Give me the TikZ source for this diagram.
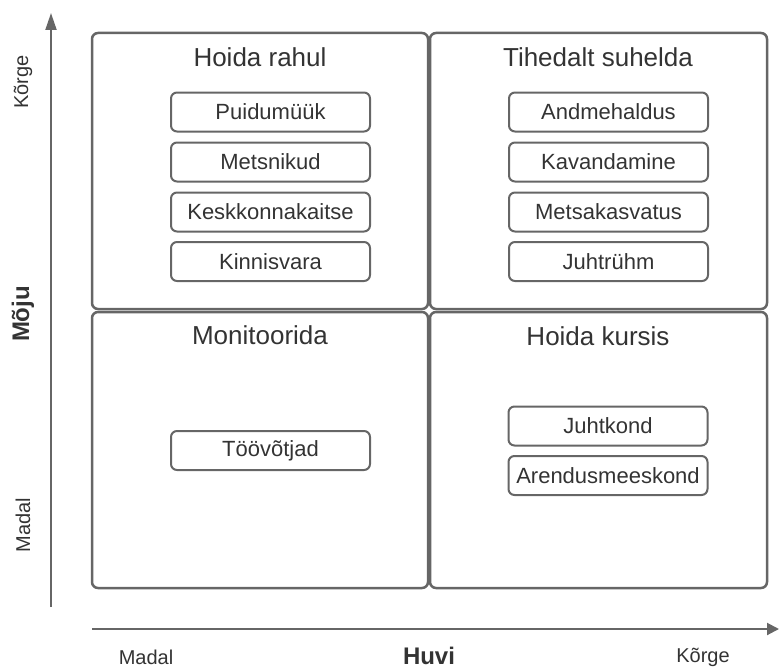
\documentclass[tikz,border=0pt]{standalone}
\usepackage{fontspec}
\setmainfont{Liberation Sans}
\usetikzlibrary{arrows.meta}
\definecolor{edgegray}{HTML}{666666}
\definecolor{ink}{HTML}{333333}
\tikzset{
  quad/.style={draw=edgegray, line width=2.5pt, rounded corners=6pt, minimum width=336pt, minimum height=276pt, inner sep=0pt, outer sep=0pt},
  qtitle/.style={text=ink, font=\fontsize{26}{29}\selectfont, inner sep=0pt},
  item/.style={draw=edgegray, line width=2pt, rounded corners=6pt, minimum width=199pt, minimum height=39pt, inner sep=0pt, text=ink, font=\fontsize{22}{25}\selectfont},
  axis/.style={draw=edgegray, line width=2pt},
  axlabel/.style={text=ink, font=\fontsize{20}{23}\selectfont, inner sep=0pt},
  axtitle/.style={text=ink, font=\bfseries\fontsize{24}{27}\selectfont, inner sep=0pt}
}
\begin{document}
\begin{tikzpicture}[x=1pt,y=-1pt]
\useasboundingbox (0,0) rectangle (779,669);
% quadrants
\node[quad] (tl) at (260,171) {};
\node[quad, minimum width=337pt] (tr) at (598.5,171) {};
\node[quad] (bl) at (260,450) {};
\node[quad, minimum width=337pt] (br) at (598.5,450) {};
% titles
\node[qtitle] (ttl) at (260,57) {Hoida rahul};
\node[qtitle] (ttr) at (598,57) {Tihedalt suhelda};
\node[qtitle] (tbl) at (260,335) {Monitoorida};
\node[qtitle] (tbr) at (598,336) {Hoida kursis};
% items top-left
\node[item] (i1) at (270.5,112) {Puidumüük};
\node[item] (i2) at (270.5,162) {Metsnikud};
\node[item] (i3) at (270.5,212) {Keskkonnakaitse};
\node[item] (i4) at (270.5,261.5) {Kinnisvara};
% items top-right
\node[item] (j1) at (608.5,112) {Andmehaldus};
\node[item] (j2) at (608.5,162) {Kavandamine};
\node[item] (j3) at (608.5,212) {Metsakasvatus};
\node[item] (j4) at (608.5,261.5) {Juhtrühm};
% bottom-left
\node[item] (k1) at (270.5,450.5) {Töövõtjad};
% bottom-right
\node[item] (m1) at (608,426) {Juhtkond};
\node[item] (m2) at (608,475.5) {Arendusmeeskond};
% axes
\coordinate (vb) at (51,607);
\coordinate (vt) at (51,13);
\coordinate (hl) at (92,629);
\coordinate (hr) at (779,629);
\draw[axis, -{Triangle[length=17pt,width=11pt]}] (vb) -- (vt);
\draw[axis, -{Triangle[length=12pt,width=12pt]}] (hl) -- (hr);
% axis labels
\node[axlabel, rotate=90] (yhigh) at (23,82) {Kõrge};
\node[axtitle, rotate=90] (ytitle) at (23,314) {Mõju};
\node[axlabel, rotate=90] (ylow) at (23,525) {Madal};
\node[axlabel] (xlow) at (146,657) {Madal};
\node[axtitle] (xtitle) at (429,656) {Huvi};
\node[axlabel] (xhigh) at (703,657) {Kõrge};
\end{tikzpicture}
\end{document}
